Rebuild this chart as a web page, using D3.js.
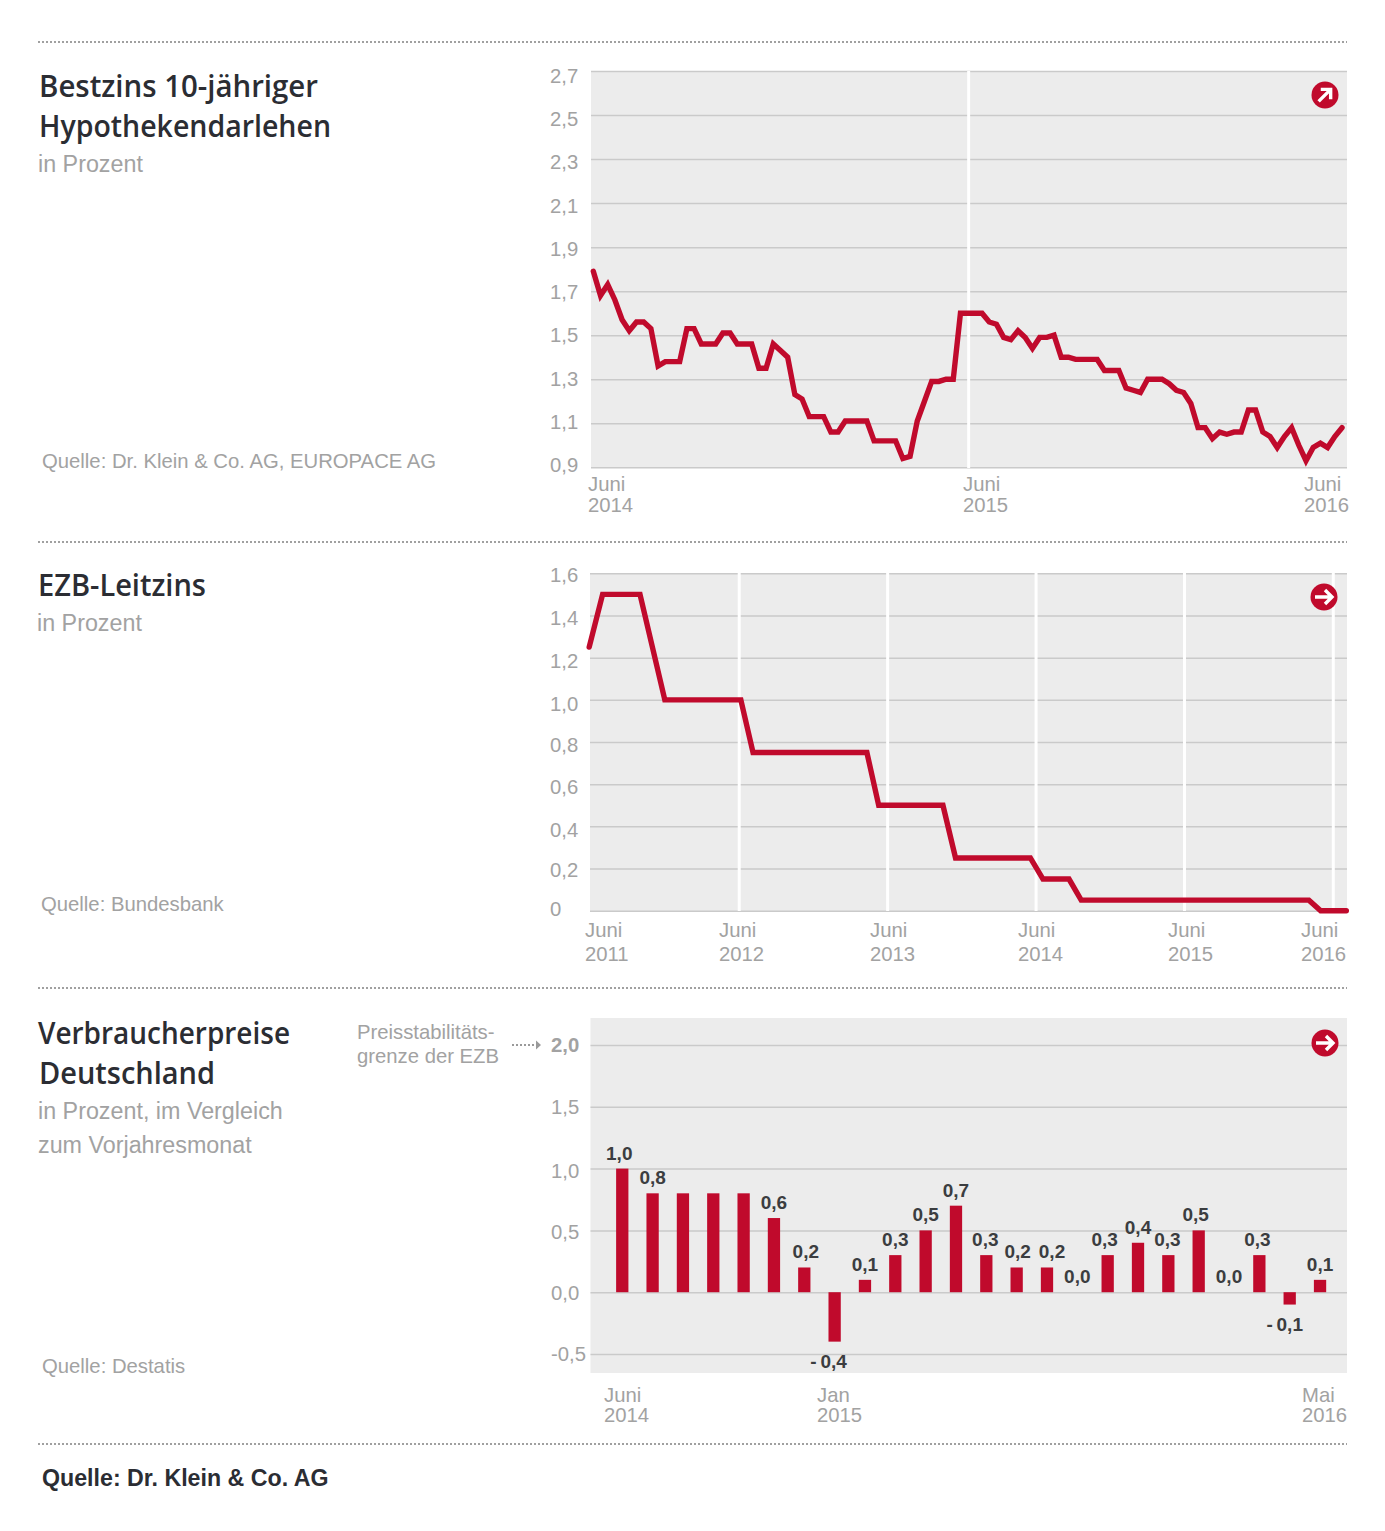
<!DOCTYPE html>
<html>
<head>
<meta charset="utf-8">
<script src="https://cdn.jsdelivr.net/npm/d3@7"></script>
<style>
  body { margin: 0; background: #fff; }
  text { font-family: "Liberation Sans", Arial, sans-serif; fill: #a2a2a2; font-size: 20.3px; }
  text.head { font-family: "Open Sans", sans-serif; font-weight: 600; font-size: 30px; fill: #2b2d33; }
  text.sub { font-size: 23.3px; }
  text.val { font-weight: bold; font-size: 19px; fill: #3b3d40; }
  .grid line { stroke: #cacaca; stroke-width: 1.5; }
  .grid path { display: none; }
</style>
</head>
<body>
<svg id="chart" width="1385" height="1531"></svg>
<script>
// Bestzins, one value per week, June 2014 - June 2016
var bestzins = [
  1.79, 1.68, 1.73, 1.66, 1.57, 1.52, 1.56, 1.56, 1.53, 1.36,
  1.38, 1.38, 1.38, 1.53, 1.53, 1.46, 1.46, 1.46, 1.51, 1.51,
  1.46, 1.46, 1.46, 1.35, 1.35, 1.46, 1.43, 1.40, 1.23, 1.21,
  1.13, 1.13, 1.13, 1.06, 1.06, 1.11, 1.11, 1.11, 1.11, 1.02,
  1.02, 1.02, 1.02, 0.94, 0.95, 1.11, 1.20, 1.29, 1.29, 1.30,
  1.30, 1.60, 1.60, 1.60, 1.60, 1.56, 1.55, 1.49, 1.48, 1.52,
  1.49, 1.44, 1.49, 1.49, 1.50, 1.40, 1.40, 1.39, 1.39, 1.39,
  1.39, 1.34, 1.34, 1.34, 1.26, 1.25, 1.24, 1.30, 1.30, 1.30,
  1.28, 1.25, 1.24, 1.19, 1.08, 1.08, 1.03, 1.06, 1.05, 1.06,
  1.06, 1.16, 1.16, 1.06, 1.04, 0.99, 1.04, 1.08, 1.00, 0.93,
  0.99, 1.01, 0.99, 1.04, 1.08
];
var bestzinsTicks = [0.9, 1.1, 1.3, 1.5, 1.7, 1.9, 2.1, 2.3, 2.5, 2.7];
var bestzinsYearWeeks = [52];

// EZB-Leitzins, the corners of the step line
var leitzinsDates = [
  "2011-05-29", "2011-07-01", "2011-10-01", "2011-12-01", "2012-06-05", "2012-07-05",
  "2013-04-11", "2013-05-10", "2013-10-15", "2013-11-15", "2014-05-18", "2014-06-18",
  "2014-08-21", "2014-09-20", "2016-04-02", "2016-05-01", "2016-07-03"
];
var leitzinsValues = [
  1.25, 1.5, 1.5, 1.0, 1.0, 0.75,
  0.75, 0.5, 0.5, 0.25, 0.25, 0.15,
  0.15, 0.05, 0.05, 0, 0
];
var leitzinsTicks = [0, 0.2, 0.4, 0.6, 0.8, 1.0, 1.2, 1.4, 1.6];
var leitzinsYears = ["2011-06-01", "2012-06-01", "2013-06-01", "2014-06-01", "2015-06-01", "2016-06-01"];

// Verbraucherpreise, June 2014 - May 2016
var preiseMonths = d3.range(24);
var preiseValues = [
  1.0, 0.8, 0.8, 0.8, 0.8, 0.6, 0.2, -0.4, 0.1, 0.3, 0.5, 0.7,
  0.3, 0.2, 0.2, 0.0, 0.3, 0.4, 0.3, 0.5, 0.0, 0.3, -0.1, 0.1
];
var preiseHiddenLabels = [2, 3, 4];
var preiseTicks = [-0.5, 0, 0.5, 1.0, 1.5, 2.0];

var RED = "#c00a2c";
var svg = d3.select("#chart");

function comma(v, digits) {
  return v.toFixed(digits).replace(".", ",");
}

function addText(str, x, y, cls) {
  return svg.append("text").attr("x", x).attr("y", y).attr("class", cls || null).text(str);
}

// the headline face of the original is narrower than Open Sans, so fit each one
function addHead(str, x, y, len) {
  return addText(str, x, y, "head").attr("textLength", len).attr("lengthAdjust", "spacingAndGlyphs");
}

// dotted rule between the sections
function rule(y) {
  svg.append("line")
    .attr("x1", 38).attr("x2", 1347).attr("y1", y).attr("y2", y)
    .attr("stroke", "#a0a0a0").attr("stroke-width", 2).attr("stroke-dasharray", "2 2");
}
[42, 542, 988, 1444].forEach(rule);

function plotBack(x0, x1, y0, y1) {
  svg.append("rect").attr("x", x0).attr("y", y0).attr("width", x1 - x0).attr("height", y1 - y0).attr("fill", "#ececec");
}

function grid(y, ticks, x0, x1) {
  svg.append("g").attr("class", "grid").attr("transform", "translate(" + x0 + ",0)")
    .call(d3.axisLeft(y).tickValues(ticks).tickSize(-(x1 - x0)).tickFormat(""));
}

function whiteLine(x, y0, y1) {
  svg.append("line").attr("x1", x).attr("x2", x).attr("y1", y0).attr("y2", y1)
    .attr("stroke", "#fff").attr("stroke-width", 3);
}

function redLine(xs, ys, xf, yf) {
  var line = d3.line().x(function (d) { return xf(d); }).y(function (d, i) { return yf(ys[i]); });
  svg.append("path").datum(xs).attr("d", line)
    .attr("fill", "none").attr("stroke", RED).attr("stroke-width", 5.4)
    .attr("stroke-linecap", "round").attr("stroke-linejoin", "miter");
}

function icon(cx, cy, angle) {
  var g = svg.append("g").attr("transform", "translate(" + cx + "," + cy + ") rotate(" + angle + ")");
  g.append("circle").attr("r", 13.5).attr("fill", RED);
  g.append("path").attr("d", "M-9,0H8M1,-7L8,0L1,7")
    .attr("fill", "none").attr("stroke", "#fff").attr("stroke-width", 3.4);
}

// ---------- Bestzins ----------
var y1 = d3.scaleLinear().domain([0.9, 2.7]).range([467.3, 71]);
var y1Label = d3.scaleLinear().domain([0.9, 2.7]).range([472, 83]);
var x1 = d3.scaleLinear().domain([0, 104]).range([593.3, 1342]);

plotBack(591, 1347, 71, 467);
grid(y1, bestzinsTicks, 591, 1347);
bestzinsYearWeeks.forEach(function (w) { whiteLine(x1(w) + 1, 71, 468); });
redLine(d3.range(bestzins.length), bestzins, x1, y1);
icon(1325, 95, -45);
bestzinsTicks.forEach(function (t) { addText(comma(t, 1), 550, y1Label(t)); });

addText("Juni", 588, 491); addText("2014", 588, 511.5);
addText("Juni", 963, 491); addText("2015", 963, 511.5);
addText("Juni", 1304, 491); addText("2016", 1304, 511.5);

addHead("Bestzins 10-jähriger", 39, 97, 279);
addHead("Hypothekendarlehen", 39, 137, 292);
addText("in Prozent", 38, 172, "sub");
addText("Quelle: Dr. Klein & Co. AG, EUROPACE AG", 42, 468);

// ---------- EZB-Leitzins ----------
var parseDay = d3.timeParse("%Y-%m-%d");
var y2 = d3.scaleLinear().domain([0, 1.6]).range([910.7, 573.3]);
var y2Label = d3.scaleLinear().domain([0, 1.6]).range([916, 582]);
var x2 = d3.scaleTime().domain([parseDay("2011-06-01"), parseDay("2016-06-01")]).range([590.4, 1333.3]);

plotBack(590, 1347, 573, 911);
grid(y2, leitzinsTicks, 590, 1347);
leitzinsYears.slice(1).forEach(function (d) { whiteLine(x2(parseDay(d)), 573, 911); });
redLine(leitzinsDates.map(parseDay), leitzinsValues, x2, y2);
icon(1324, 597, 0);
// tick labels are not evenly spaced in the original
var leitzinsTickNudge = [0, 3, 4, 3, 3, 4, 2, 1, 0];
leitzinsTicks.forEach(function (t, i) {
  addText(t === 0 ? "0" : comma(t, 1), 550, y2Label(t) + leitzinsTickNudge[i]);
});

var leitzinsLabelX = [585, 719, 870, 1018, 1168, 1301];
leitzinsYears.forEach(function (d, i) {
  addText("Juni", leitzinsLabelX[i], 937);
  addText(d.slice(0, 4), leitzinsLabelX[i], 961);
});

addHead("EZB-Leitzins", 38, 596, 168);
addText("in Prozent", 37, 631, "sub");
addText("Quelle: Bundesbank", 41, 911);

// ---------- Verbraucherpreise ----------
var y3 = d3.scaleLinear().domain([-0.5, 2.0]).range([1354, 1045]);
var x3 = d3.scaleBand().domain(preiseMonths).range([607.1, 1335.2]).paddingInner(0.595).paddingOuter(0.2975);

plotBack(590.5, 1347, 1018, 1373);
grid(y3, preiseTicks, 590.5, 1347);

svg.append("g").selectAll("rect").data(preiseValues).join("rect")
  .attr("x", function (d, i) { return x3(i); })
  .attr("width", x3.bandwidth())
  .attr("y", function (d) { return y3(Math.max(d, 0)); })
  .attr("height", function (d) { return Math.abs(y3(d) - y3(0)); })
  .attr("fill", RED);

// labels do not sit exactly over their bars in the original
var labelNudge = [-3, 0, 0, 0, 0, 0, 1.5, -6, 0, 0, 0, 0, -1, 1, 5, 0, -3, 0, -1, -3, 0, -2, -5, 0];
preiseValues.forEach(function (v, i) {
  if (preiseHiddenLabels.indexOf(i) >= 0) return;
  var str = (v < 0 ? "-\u2009" : "") + comma(Math.abs(v), 1);
  var yPos = v < 0 ? y3(v) + 26 : y3(v) - 9;
  addText(str, x3(i) + x3.bandwidth() / 2 + labelNudge[i], yPos, "val").attr("text-anchor", "middle");
});

var y3Label = d3.scaleLinear().domain([-0.5, 2.0]).range([1361, 1052]);
var preiseTickNudge = [0, 1, 2, 2, 0, 0];
preiseTicks.forEach(function (t, i) {
  var lab = addText(comma(t, 1), 551, y3Label(t) + preiseTickNudge[i]);
  if (t === 2.0) lab.style("font-weight", "bold");
});
icon(1325, 1043, 0);

// note next to the 2,0 tick
svg.append("line").attr("x1", 512).attr("x2", 536).attr("y1", 1045).attr("y2", 1045)
  .attr("stroke", "#9a9a9a").attr("stroke-width", 2).attr("stroke-dasharray", "2 2");
svg.append("path").attr("d", "M536,1040.5L541,1045L536,1049.5Z").attr("fill", "#9a9a9a");
addText("Preisstabilitäts-", 357, 1039);
addText("grenze der EZB", 357, 1063);

addText("Juni", 604, 1402); addText("2014", 604, 1422);
addText("Jan", 817, 1402); addText("2015", 817, 1422);
addText("Mai", 1302, 1402); addText("2016", 1302, 1422);

addHead("Verbraucherpreise", 38, 1044, 252);
addHead("Deutschland", 39, 1084, 176);
addText("in Prozent, im Vergleich", 38, 1119, "sub");
addText("zum Vorjahresmonat", 38, 1153, "sub");
addText("Quelle: Destatis", 42, 1373);

addText("Quelle: Dr. Klein & Co. AG", 42, 1486)
  .style("font-weight", "bold").style("font-size", "23.2px").style("fill", "#2b2d33");
</script>
</body>
</html>
